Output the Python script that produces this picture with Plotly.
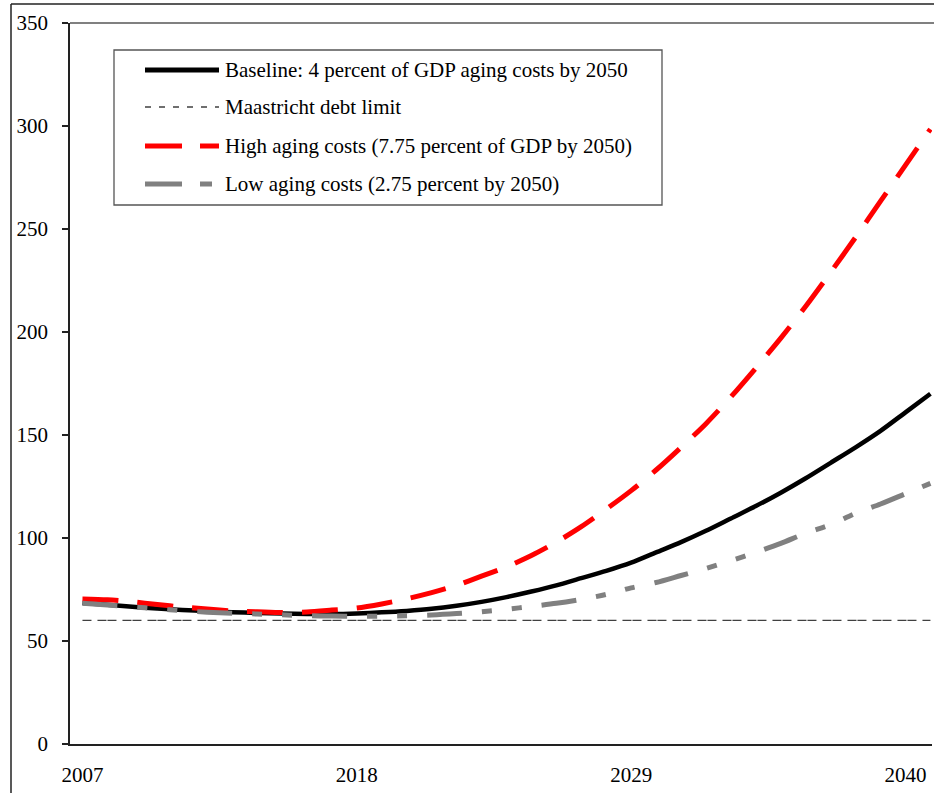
import plotly.graph_objects as go

years = list(range(2007, 2042))
baseline = [68.5, 67.6, 66.6, 65.8, 65.1, 64.5, 64.0, 63.6, 63.3, 63.1, 63.1, 63.4, 63.9,
            64.6, 65.6, 67.1, 69.0, 71.3, 74.0, 77.0, 80.5, 84.0, 88.0, 93.0, 98.0,
            103.5, 109.5, 115.5, 122.0, 129.0, 136.5, 144.0, 152.0, 161.0, 170.0]
high_cost = [70.4, 70.0, 69.0, 67.7, 66.5, 65.5, 64.6, 64.2, 63.8, 64.1, 65.0, 66.0, 68.0,
             70.5, 73.5, 77.0, 81.5, 86.0, 91.5, 98.0, 105.5, 114.0, 123.0, 133.0, 144.0,
             155.5, 168.5, 182.5, 197.0, 212.5, 229.0, 246.0, 263.5, 281.0, 298.5]
low_cost = [68.3, 67.5, 66.6, 65.6, 64.7, 64.0, 63.5, 63.1, 62.7, 62.3, 62.1, 62.0, 62.0,
            62.2, 62.6, 63.3, 64.2, 65.4, 66.8, 68.3, 70.2, 72.6, 75.8, 78.4, 81.8,
            85.2, 89.0, 93.0, 97.4, 102.3, 106.5, 112.0, 116.5, 121.5, 126.5]
maastricht = [60] * len(years)

x_ticks = [2007, 2018, 2029, 2040]
y_ticks = [0, 50, 100, 150, 200, 250, 300, 350]
legend_labels = ["Baseline: 4 percent of GDP aging costs by 2050",
                 "Maastricht debt limit",
                 "High aging costs (7.75 percent of GDP by 2050)",
                 "Low aging costs (2.75 percent by 2050)"]

FONT = "Liberation Serif, Times New Roman, serif"
W, H = 934, 793
ML, MR, MT, MB = 70, 2, 23, 49
PW, PH = W - ML - MR, H - MT - MB

def px(x):
    return (x - ML) / PW

def py(y):
    return (H - MB - y) / PH

styles = [
    dict(color="#000000", width=4.5, dash="solid", shape="spline", smoothing=0.8),
    dict(color="#404040", width=1.3, dash="9px,6px,9px,1px"),
    dict(color="#ff0000", width=5, dash="36px,19px", shape="spline", smoothing=0.8),
    dict(color="#808080", width=5, dash="35px,20px,10px,20px,10px,20px",
         shape="spline", smoothing=0.8),
]
legend_styles = [
    dict(color="#000000", width=5, dash="solid"),
    dict(color="#404040", width=1.5, dash="6px,8px"),
    dict(color="#ff0000", width=5, dash="37px,18px"),
    dict(color="#808080", width=5, dash="37px,18px,12px,18px"),
]

fig = go.Figure()
for vals, st, name in zip([baseline, maastricht, high_cost, low_cost], styles, legend_labels):
    fig.add_trace(go.Scatter(x=years, y=vals, mode="lines", name=name,
                             line=st, showlegend=False, hoverinfo="skip"))

shapes = []
# outer chart frame (partially visible)
shapes.append(dict(type="line", xref="paper", yref="paper", x0=px(11), x1=px(11),
                   y0=py(H + 10), y1=py(4), line=dict(color="#222", width=1.5)))
shapes.append(dict(type="line", xref="paper", yref="paper", x0=px(11), x1=px(W + 10),
                   y0=py(4), y1=py(4), line=dict(color="#222", width=1.5)))
# plot area top border
shapes.append(dict(type="line", xref="paper", yref="paper", x0=0, x1=px(W + 10),
                   y0=1, y1=1, line=dict(color="#808080", width=2)))
# legend box
shapes.append(dict(type="rect", xref="paper", yref="paper", x0=px(114), x1=px(662),
                   y0=py(205), y1=py(50), line=dict(color="#555", width=1.3),
                   fillcolor="white", layer="below"))
row_y = [70, 107, 146, 184]
annotations = []
for ry, st, lab in zip(row_y, legend_styles, legend_labels):
    shapes.append(dict(type="line", xref="paper", yref="paper", x0=px(145), x1=px(219),
                       y0=py(ry), y1=py(ry), line=st))
    annotations.append(dict(xref="paper", yref="paper", x=px(223), y=py(ry),
                            xanchor="left", yanchor="middle", text=lab, showarrow=False,
                            font=dict(family=FONT, size=21, color="black")))

fig.update_layout(
    width=W, height=H,
    margin=dict(l=ML, r=MR, t=MT, b=MB, pad=0),
    paper_bgcolor="white", plot_bgcolor="white",
    font=dict(family=FONT, size=21, color="black"),
    shapes=shapes, annotations=annotations,
    xaxis=dict(range=[2006.5, 2006.5 + PW / 24.94], tickvals=x_ticks,
               ticktext=[str(v) for v in x_ticks], ticks="", showgrid=False,
               zeroline=False, showline=True, linecolor="#222", linewidth=2,
               ticklabelstandoff=11, tickfont=dict(size=21)),
    yaxis=dict(range=[0, 350], tickvals=y_ticks, ticks="outside", ticklen=6,
               tickwidth=1.5, tickcolor="#222", showgrid=False, zeroline=False,
               showline=True, linecolor="#222", linewidth=1.5,
               ticklabelstandoff=10, tickfont=dict(size=21)),
)
fig.write_html("out.html", config={"displayModeBar": False},
               post_script="document.body.style.margin='0';document.body.style.overflow='hidden';")
